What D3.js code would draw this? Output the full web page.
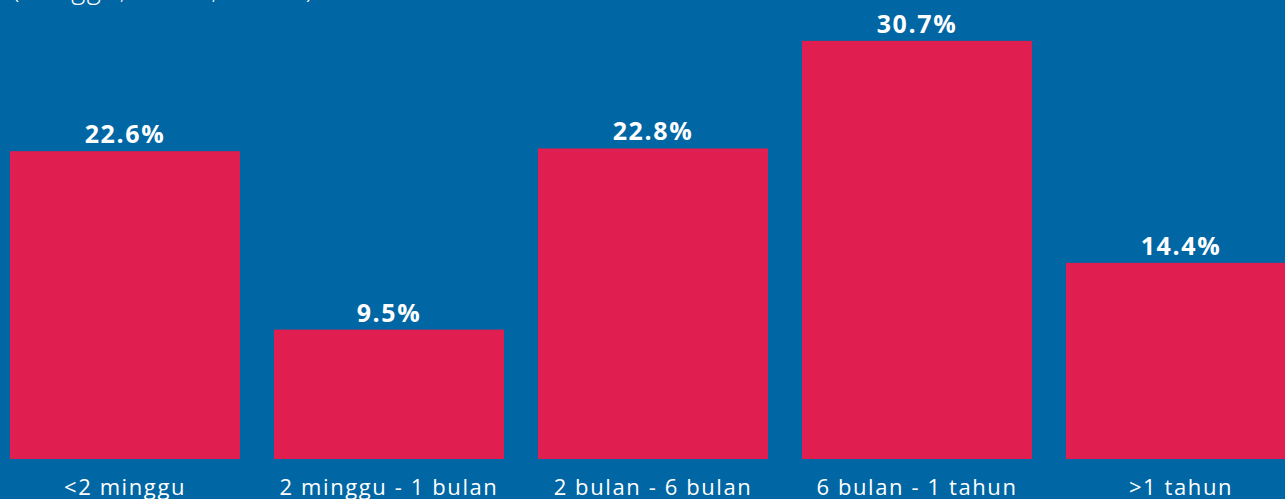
<!DOCTYPE html>
<html>
<head>
<meta charset="utf-8">
<script src="https://cdn.jsdelivr.net/npm/d3@7"></script>
<style>
  html, body { margin: 0; padding: 0; background: #0066A4; overflow: hidden; }
  svg { display: block; }
</style>
</head>
<body>
<svg id="chart" width="1285" height="499"></svg>
<script>
// Duration categories and share of respondents (%)
const categories = ["<2 minggu", "2 minggu - 1 bulan", "2 bulan - 6 bulan", "6 bulan - 1 tahun", ">1 tahun"];
const values = [22.6, 9.5, 22.8, 30.7, 14.4];
const valueLabels = ["22.6%", "9.5%", "22.8%", "30.7%", "14.4%"];
const subtitle = "(minggu, bulan, tahun)";

const W = 1285, H = 499;
const svg = d3.select("#chart");

svg.append("rect").attr("width", W).attr("height", H).attr("fill", "#0066A4");

const x = d3.scaleBand()
  .domain(categories)
  .range([10, 1296])
  .paddingInner(34 / 264)
  .paddingOuter(0);

const y = d3.scaleLinear()
  .domain([0, 33.7])
  .range([459, 0]);

// Subtitle, partly above the visible area
svg.append("text")
  .attr("x", 12)
  .attr("y", -2)
  .attr("fill", "#ffffff")
  .attr("font-family", "'Open Sans', sans-serif")
  .attr("font-weight", 300)
  .attr("font-size", 27)
  .attr("letter-spacing", 1.5)
  .text(subtitle);

const g = svg.append("g");

g.selectAll("rect.bar")
  .data(values)
  .join("rect")
  .attr("class", "bar")
  .attr("x", (d, i) => x(categories[i]))
  .attr("y", d => y(d))
  .attr("width", x.bandwidth())
  .attr("height", d => y(0) - y(d))
  .attr("fill", "#E11E50");

g.selectAll("text.val")
  .data(values)
  .join("text")
  .attr("class", "val")
  .attr("x", (d, i) => x(categories[i]) + x.bandwidth() / 2)
  .attr("y", d => y(d) - 8)
  .attr("text-anchor", "middle")
  .attr("fill", "#ffffff")
  .attr("font-family", "'Open Sans', sans-serif")
  .attr("font-weight", 700)
  .attr("font-size", 25)
  .attr("letter-spacing", 1.6)
  .text((d, i) => valueLabels[i]);

// Category axis labels
const xAxis = d3.axisBottom(x).tickSize(0).tickPadding(0);
const axisG = svg.append("g")
  .attr("transform", `translate(0, ${y(0)})`)
  .call(xAxis);
axisG.select(".domain").remove();
axisG.selectAll(".tick text")
  .attr("y", 36)
  .attr("dy", 0)
  .attr("fill", "#ffffff")
  .attr("font-family", "'Open Sans', sans-serif")
  .attr("font-weight", 500)
  .attr("font-size", 22)
  .attr("letter-spacing", 1.6);
</script>
</body>
</html>
